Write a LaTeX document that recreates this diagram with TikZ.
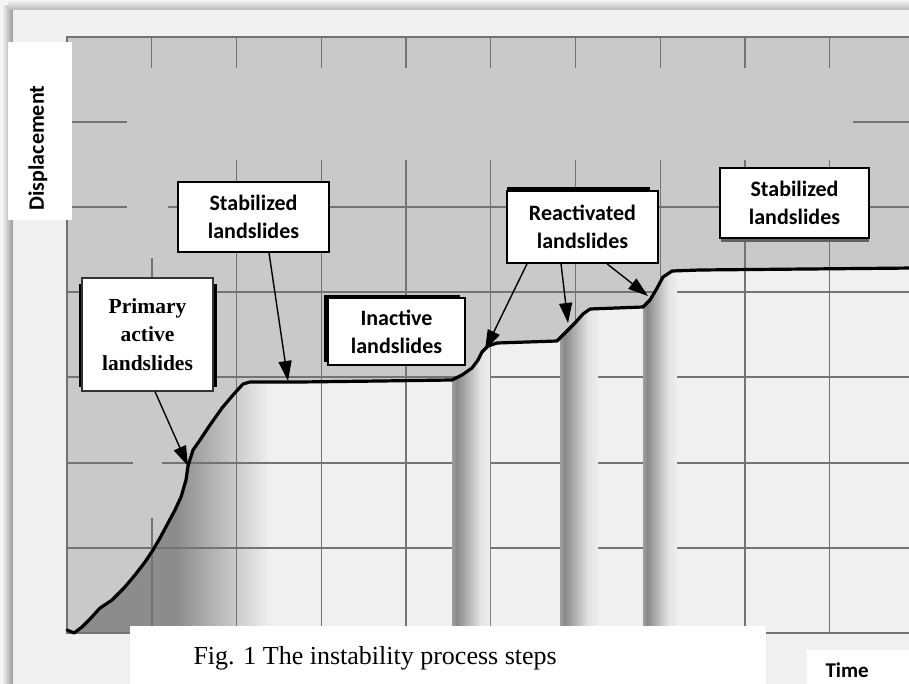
\documentclass[tikz,border=0pt]{standalone}
\usepackage{fontspec}
\setmainfont{Liberation Serif}
\newfontfamily\calibfont{Carlito}
\usetikzlibrary{arrows.meta}
\pgfdeclarehorizontalshading{stripeshade}{100bp}{color(0bp)=(black!38); color(25bp)=(black!38); color(31bp)=(black!46); color(62bp)=(black!11); color(75bp)=(black!7); color(100bp)=(black!7)}
\def\landcurve{(67,630) -- (74,633) -- (82,627) -- (90,619) -- (100,608) -- (112,600) -- (124,588) -- (135,575) -- (145,562) -- (153,550) -- (160,538) -- (168,523) -- (175,510) -- (181,497) -- (186,480) -- (188,466) -- (193,450) -- (200,440) -- (210,425) -- (222,408) -- (233,395) -- (243,384) -- (250,382) -- (300,382) -- (380,381) -- (452,380) -- (462,375) -- (472,368) -- (478,360) -- (482,352) -- (488,346) -- (497,343) -- (557,341) -- (566,332) -- (575,323) -- (583,314) -- (590,309) -- (643,307) -- (650,300) -- (656,290) -- (663,277) -- (672,271) -- (700,270) -- (915,268)}
\begin{document}
\begin{tikzpicture}[x=1pt, y=-1pt,
    gridline/.style={draw=black!55, line width=1.3pt},
    labelbox/.style={draw=black, line width=1.6pt, fill=white, align=center, inner sep=0pt},
    sanslabel/.style={labelbox, font=\calibfont\bfseries\fontsize{22}{28}\selectfont},
    seriflabel/.style={labelbox, draw=black!80, line width=1.2pt, font=\bfseries\fontsize{21.5}{28.5}\selectfont},
    pointer/.style={-{Triangle[length=20pt,width=13pt]}, line width=1.4pt}]
    \useasboundingbox (0,0) rectangle (909,684);
    % panel and its soft shadow
    \fill[black!4] (0,0) rectangle (909,684);
    \shade[left color=black!4, right color=black!40] (2,6) rectangle (13,684);
    \shade[top color=black!4, bottom color=black!28] (8,0) rectangle (909,10);
    \fill[black!6] (13,10) rectangle (909,684);
    % plot area: above and below the curve
    \fill[black!21] (67,37) rectangle (915,633);
    \fill[black!6] \landcurve -- (915,633) -- (67,633) -- cycle;
    \begin{scope}
        \clip \landcurve -- (915,633) -- (67,633) -- cycle;
        \fill[black!45] (67,350) rectangle (176,633);
        \shade[left color=black!45, right color=black!6] (176,350) rectangle (270,633);
    \end{scope}
    % grid
    \foreach \i in {1,...,10} \draw[gridline] ({67+84.75*\i},37) -- ++(0,31);
    \foreach \i in {2,...,10} \draw[gridline] ({67+84.75*\i},160) -- ({67+84.75*\i},633);
    \draw[gridline] (152,258) -- (152,390) (152,518) -- (152,633);
    \foreach \y/\a/\b in {122/67/127, 122/853/915, 207/67/127, 207/168/915, 292/67/915,
        377/67/915, 463/67/133, 463/162/915, 548/67/915}
        \draw[gridline] (\a,\y) -- (\b,\y);
    \draw[gridline] (915,37) -- (67,37) -- (67,633) -- (915,633);
    % shaded columns under the reactivated steps
    \begin{scope}
        \clip \landcurve -- (915,633) -- (67,633) -- cycle;
        \foreach \a/\b in {452/490, 560/598, 643/677}
            \shade[shading=stripeshade] (\a,250) rectangle (\b,633);
    \end{scope}
    % displacement curve
    \draw[line width=3.2pt, line join=round, line cap=round] \landcurve;
    % axis titles and caption
    \fill[white] (8,42) rectangle (72,220);
    \node[rotate=90, font=\calibfont\bfseries\fontsize{22}{24}\selectfont] (ytitle) at (38,148) {Displacement};
    \fill[white] (807,650) rectangle (909,684);
    \node[anchor=base west, font=\calibfont\bfseries\fontsize{21}{24}\selectfont] (xtitle) at (822,677) {Time};
    \fill[white] (130,626) rectangle (766,684);
    \node[anchor=base west, font=\fontsize{26}{30}\selectfont] (caption) at (190,664) {Fig. 1 The instability process steps};
    % label boxes with their shadows
    \fill[black] (79,284) rectangle (217,387);
    \node[seriflabel, minimum width=131, minimum height=113] (pa) at (147.5,334.5) {Primary\\active\\landslides};
    \node[sanslabel, minimum width=151, minimum height=70] (sa) at (253.5,217) {Stabilized\\landslides};
    \fill[black] (324,295) rectangle (460,362);
    \node[sanslabel, minimum width=137, minimum height=67] (ia) at (396.5,331.5) {Inactive\\landslides};
    \fill[black] (507,187) rectangle (650,255);
    \node[sanslabel, minimum width=151, minimum height=72] (ra) at (582.5,227) {Reactivated\\landslides};
    \fill[black!62] (721,175) rectangle (869,242);
    \node[sanslabel, minimum width=149, minimum height=70] (sb) at (794.5,203) {Stabilized\\landslides};
    % pointers onto the curve
    \coordinate (pa-hit) at (188,466);
    \coordinate (sa-hit) at (288,381);
    \coordinate (ra-hit1) at (485,350);
    \coordinate (ra-hit2) at (568,323);
    \coordinate (ra-hit3) at (648,296);
    \draw[pointer] ([xshift=7.5pt]pa.south) -- (pa-hit);
    \draw[pointer] ([xshift=15.5pt]sa.south) -- (sa-hit);
    \draw[pointer] ([xshift=-55.5pt]ra.south) -- (ra-hit1);
    \draw[pointer] ([xshift=-21.5pt]ra.south) -- (ra-hit2);
    \draw[pointer] ([xshift=24.5pt]ra.south) -- (ra-hit3);
\end{tikzpicture}
\end{document}
